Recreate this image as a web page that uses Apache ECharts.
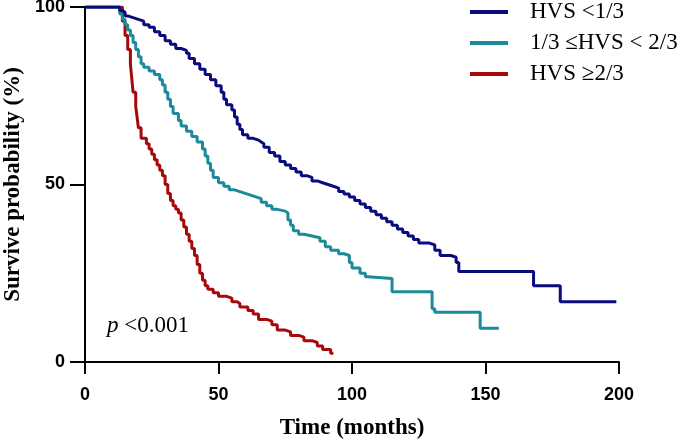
<!DOCTYPE html>
<html>
<head>
<meta charset="utf-8">
<script src="https://cdn.jsdelivr.net/npm/echarts@6/dist/echarts.min.js"></script>
<style>html,body{margin:0;padding:0;background:#fff}#c{width:685px;height:441px}</style>
</head>
<body>
<div id="c"></div>
<script>
var seriesNames = ['HVS <1/3', '1/3 \u2264HVS < 2/3', 'HVS \u22652/3'];
var xTicks = [0, 50, 100, 150, 200];
var yTicks = [0, 50, 100];

var hvsLow = [[0,100],[12,100],[13,99],[14,98.5],[15,97.5],[16,97],[18,96.5],[20,96],[22,95],[24,94.3],[26,93],[28,92],[30,90.5],[32,89.5],[34,88.3],[36,87.8],[38,87],[39,85.5],[41,84],[43,82.5],[45,81],[47,79.5],[49,77.8],[51,76],[52,74],[53,72.5],[55,71],[56,69],[57,67],[58,65.5],[59,64],[61,63],[63,62.5],[65,62],[66,61.5],[67,60.5],[69,59],[71,58],[73,56.5],[75,55.5],[77,54.5],[79,53.5],[81,52.5],[83,52],[85,51],[87,50.5],[89,50],[91,49.5],[93,49],[95,48],[97,47.3],[99,46.5],[101,45.5],[103,44.5],[105,43.5],[107,42.5],[109,41.5],[111,40.5],[113,39.5],[115,38.5],[117,37.5],[119,36.5],[121,35.5],[123,34.5],[125,33.5],[129,33],[131,31.5],[133,30],[137,29.5],[139,28],[140,25.5],[168,21.5],[178,17],[199,17]];

var hvsMid = [[0,100],[12,100],[13,98],[14,96.5],[15,95],[16,93.5],[17,92],[18,90],[19,88],[20,86],[21,84],[22,83],[24,82],[26,81],[28,79.5],[29,78],[30,76],[31,74],[32,72],[33,70],[35,68],[36,66.5],[38,65],[40,63.5],[42,62],[44,60],[45,58],[46,56],[47,54],[48,52],[50,50.5],[52,49.5],[54,48.5],[56,48],[58,47.5],[60,47],[62,46.5],[64,46],[66,45],[68,44],[70,43],[72,42.5],[75,42],[76,40],[77,38.5],[78,37],[80,36],[82,35.5],[85,35],[88,34],[90,32.5],[92,31.5],[95,30.5],[97,30],[99,28],[100,26.5],[103,25],[105,24],[106,23.5],[115,19.8],[130,15],[131,14],[148,9.5],[155,9.5]];

var hvsHigh = [[0,100],[13,100],[14,96],[15,92],[16,88],[17,84],[17.5,80],[18,76],[19,72],[19.5,69],[20,66],[21,63],[23,61.5],[24,60],[25,58.5],[26,57],[27,55.5],[28,54],[29,52.5],[30,50],[31,47.5],[32,45.5],[33,44],[34,43],[35,42],[36,40],[37,38],[38,36],[39,34],[40,32],[41,30],[42,27.5],[43,25],[44,23],[45,21.5],[46,20.5],[48,19.5],[50,18.5],[53,18],[55,17],[57,16.5],[58,15.5],[61,14.5],[63,13.5],[65,12],[68,11.5],[70,10.5],[72,9],[75,8.5],[77,7.5],[80,7],[82,6],[85,5.5],[87,4.5],[89,3.5],[91,3.5],[92,2.5],[93,2.5]];

var colors = ['#0b0b80', '#1b8a9b', '#a50a0a'];
var datasets = [hvsLow, hvsMid, hvsHigh];

var chart = echarts.init(document.getElementById('c'), null, {renderer: 'canvas'});
var serif = '"Liberation Serif", "Times New Roman", serif';
var sans = '"Liberation Sans", Arial, sans-serif';

chart.setOption({
  animation: false,
  backgroundColor: '#fff',
  grid: {left: 85, top: 7, right: 66, bottom: 79, containLabel: false, outerBoundsMode: 'none'},
  legend: {
    orient: 'vertical', left: 470, top: 0, padding: 0,
    icon: 'rect', itemWidth: 38, itemHeight: 4, itemGap: 7,
    textStyle: {fontFamily: serif, fontSize: 23, color: '#000', lineHeight: 24, padding: [0, 0, 0, 17]},
    data: seriesNames
  },
  xAxis: {
    type: 'value', min: xTicks[0], max: xTicks[xTicks.length - 1], interval: 50,
    name: 'Time (months)', nameLocation: 'middle', nameGap: 55,
    nameTextStyle: {fontFamily: serif, fontWeight: 'bold', fontSize: 23, color: '#000'},
    axisLine: {lineStyle: {color: '#000', width: 2}},
    axisTick: {length: 12, lineStyle: {color: '#000', width: 2}},
    axisLabel: {fontFamily: sans, fontWeight: 'bold', fontSize: 18, color: '#000', margin: 24},
    splitLine: {show: false}
  },
  yAxis: {
    type: 'value', min: yTicks[0], max: yTicks[yTicks.length - 1], interval: 50,
    name: 'Survive probability (%)', nameLocation: 'middle', nameGap: 57, nameRotate: 90,
    nameTextStyle: {fontFamily: serif, fontWeight: 'bold', fontSize: 23, color: '#000'},
    axisLine: {show: true, lineStyle: {color: '#000', width: 2}},
    axisTick: {show: true, length: 15, lineStyle: {color: '#000', width: 2}},
    axisLabel: {fontFamily: sans, fontWeight: 'bold', fontSize: 18, color: '#000', margin: 20},
    splitLine: {show: false}
  },
  graphic: [{
    type: 'text', left: 107, top: 314,
    style: {
      text: '{i|p} <0.001',
      rich: {i: {fontFamily: serif, fontStyle: 'italic', fontSize: 23, fill: '#000'}},
      fontFamily: serif, fontSize: 23, fill: '#000'
    }
  }],
  series: datasets.map(function (d, i) {
    return {
      name: seriesNames[i], type: 'line', step: 'end', data: d,
      showSymbol: false, symbol: 'none', z: 3 - i,
      lineStyle: {color: colors[i], width: 3},
      itemStyle: {color: colors[i]}
    };
  })
});
</script>
</body>
</html>
